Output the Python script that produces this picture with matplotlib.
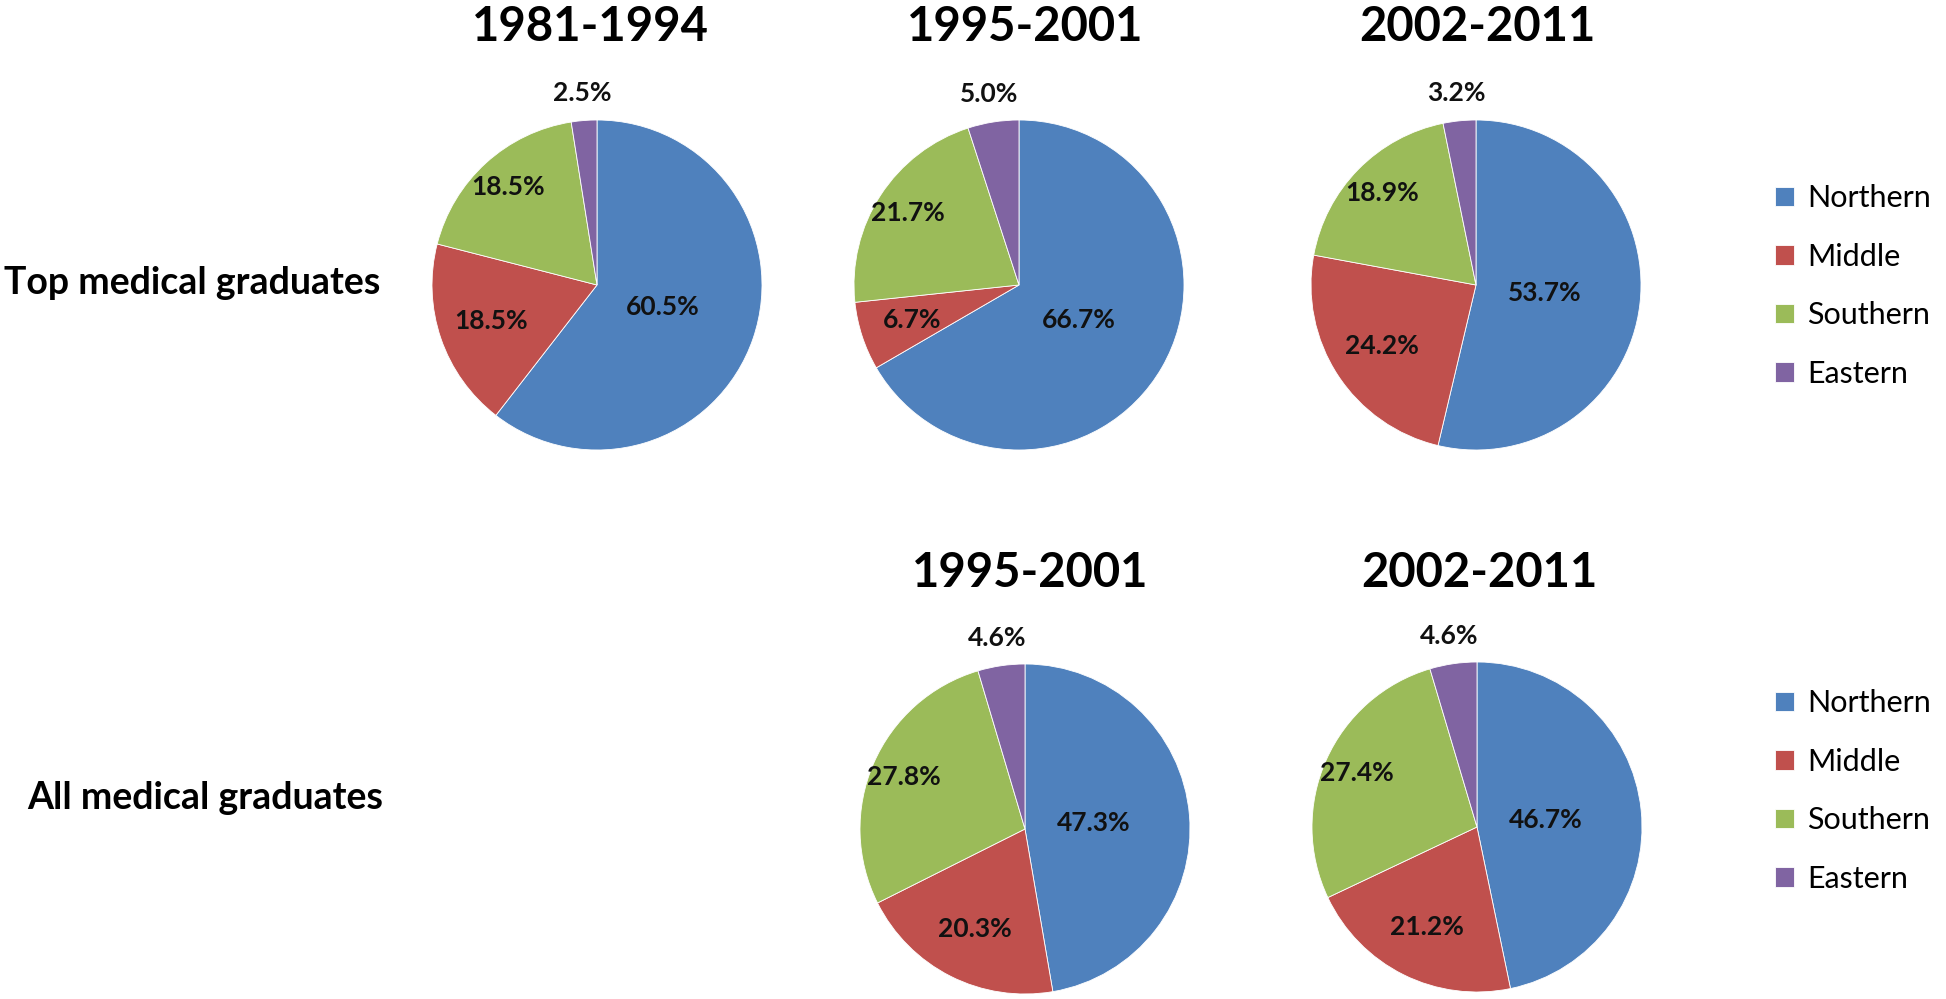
import matplotlib
matplotlib.use("Agg")
import matplotlib.pyplot as plt
import numpy as np

plt.rcParams['font.family'] = ['Lato', 'DejaVu Sans']

regions = ["Northern", "Middle", "Southern", "Eastern"]
colors = ["#4F81BD", "#C0504D", "#9BBB59", "#8064A2"]

top_periods = ["1981-1994", "1995-2001", "2002-2011"]
top_1981 = [60.5, 18.5, 18.5, 2.5]
top_1995 = [66.7, 6.7, 21.7, 5.0]
top_2002 = [53.7, 24.2, 18.9, 3.2]

all_periods = ["1995-2001", "2002-2011"]
all_1995 = [47.3, 20.3, 27.8, 4.6]
all_2002 = [46.7, 21.2, 27.4, 4.6]

# how far from centre each label sits (fraction of radius)
label_dist = [0.42, 0.68, 0.8, 1.17]

W, H = 1946, 999
R = 165  # pie radius, px

fig = plt.figure(figsize=(W / 100, H / 100), dpi=100)


def draw_pie(cx, cy, values):
    side = 2.5 * R
    ax = fig.add_axes([(cx - side / 2) / W, 1 - (cy + side / 2) / H, side / W, side / H])
    wedges, _ = ax.pie(values, colors=colors, startangle=90, counterclock=False,
                       wedgeprops=dict(linewidth=0.6, edgecolor="white"))
    for w, v, d in zip(wedges, values, label_dist):
        ang = np.deg2rad((w.theta1 + w.theta2) / 2)
        ax.text(d * np.cos(ang), d * np.sin(ang), "%.1f%%" % v, ha="center", va="center",
                fontsize=19, fontweight="bold", color="#111111")
    ax.set_xlim(-1.25, 1.25)
    ax.set_ylim(-1.25, 1.25)
    ax.set_aspect("equal")
    ax.axis("off")
    return wedges


wedges = draw_pie(597, 285, top_1981)
draw_pie(1019, 285, top_1995)
draw_pie(1476, 285, top_2002)
draw_pie(1025, 829, all_1995)
draw_pie(1477, 827, all_2002)

for x, t in zip([590, 1025, 1477], top_periods):
    fig.text(x / W, 1 - 27 / H, t, ha="center", va="center", fontsize=34, fontweight="bold")
for x, t in zip([1030, 1479], all_periods):
    fig.text(x / W, 1 - 573 / H, t, ha="center", va="center", fontsize=34, fontweight="bold")

fig.text(4 / W, 1 - 283 / H, "Top medical graduates", ha="left", va="center",
         fontsize=27, fontweight="bold")
fig.text(27 / W, 1 - 798 / H, "All medical graduates", ha="left", va="center",
         fontsize=27, fontweight="bold")

for ytop in [172, 677]:
    fig.legend(wedges, regions, loc="upper left", bbox_to_anchor=(1763 / W, 1 - ytop / H),
               frameon=False, fontsize=22, handlelength=0.6, handleheight=0.6,
               handletextpad=0.45, labelspacing=1.0, borderaxespad=0)

fig.savefig("out.png", dpi=100)
